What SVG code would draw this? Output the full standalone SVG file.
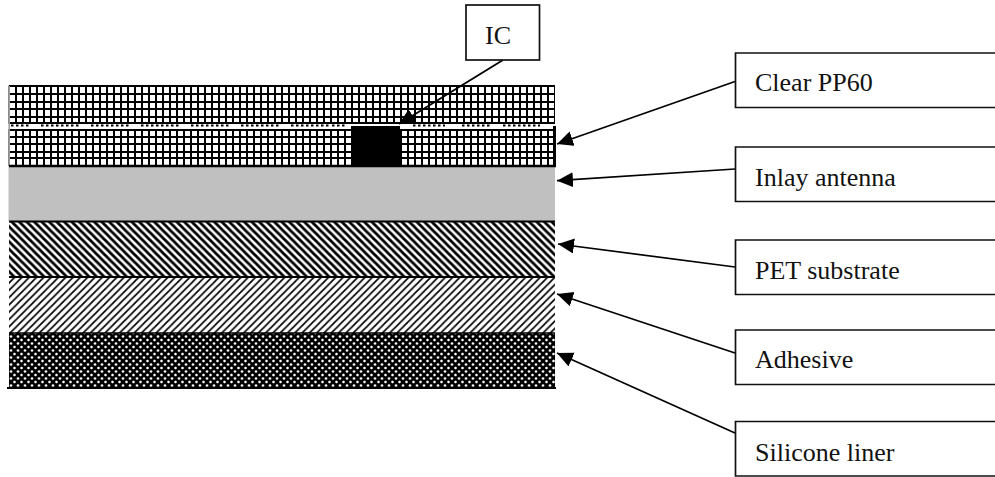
<svg xmlns="http://www.w3.org/2000/svg" width="995" height="477" viewBox="0 0 995 477">
<style>
.box{fill:#fff;stroke:#111;stroke-width:1.7}
.lbl{font-family:"Liberation Serif","Times New Roman",serif;font-size:26px;fill:#111}
.conn{stroke:#000;stroke-width:1.7;fill:none;marker-end:url(#arrow)}
.rule{stroke:#000;stroke-width:2}
</style>
<defs>
<marker id="arrow" markerUnits="userSpaceOnUse" markerWidth="17" markerHeight="16" refX="16" refY="7.500" orient="auto"><path d="M0 0L16 7.500L0 15z" fill="#000"/></marker>
<pattern id="grid" patternUnits="userSpaceOnUse" x="8" y="0" width="7" height="7"><rect width="7" height="7" fill="#fff"/><rect width="2" height="7" fill="#000"/></pattern>
<pattern id="pet" patternUnits="userSpaceOnUse" width="7.500" height="7.500"><rect width="7.500" height="7.500" fill="#fff"/><path d="M-1 -1L8.500 8.500M-2 5.500L2 9.500M5.500 -2L9.500 2" stroke="#000" stroke-width="2.800"/></pattern>
<pattern id="adh" patternUnits="userSpaceOnUse" width="7.300" height="7.300"><rect width="7.300" height="7.300" fill="#fff"/><path d="M-1 8.300L8.300 -1M-1 1L1 -1M6.300 8.300L8.300 6.300" stroke="#000" stroke-width="1.700"/></pattern>
<pattern id="lin" patternUnits="userSpaceOnUse" x="9" y="334" width="7" height="7"><rect width="7" height="7" fill="#000"/><path d="M2 1.200V3.800M0.700 2.500H3.300M5.500 4.700V7.300M4.200 6H6.800M5.500 -2.300V0.300" stroke="#fff" stroke-width="1.300"/></pattern>
</defs>
<rect width="995" height="477" fill="#fff"/>
<g id="layer-clear-pp60">
<rect x="8.500" y="85.500" width="546.500" height="38.500" fill="url(#grid)"/>
<rect x="8.500" y="129" width="546.500" height="37" fill="url(#grid)"/>
<path d="M9 86H555M9 94H555M9 102H555M9 109H555M9 117H555M9 123H555M9 130H555M9 137H555M9 144H555M9 152H555M9 158H555" stroke="#000" stroke-width="2" shape-rendering="crispEdges"/>
<path d="M11 125.600H30M41 125.600H79M91 125.600H129M141 125.600H179M191 125.600H229M241 125.600H279M291 125.600H329M332 125.600H346M413 125.600H445M462 125.600H492M503 125.600H540" stroke="#000" stroke-width="2" stroke-dasharray="2.500 2.500"/>
<path d="M9.250 86V166" stroke="#999" stroke-width="1.500"/>
<path d="M554.500 126V166" stroke="#000" stroke-width="3"/>
<rect id="ic-chip" x="351" y="126" width="49" height="40" fill="#000"/>
</g>
<g id="layer-inlay-antenna">
<rect x="8.500" y="166" width="546.500" height="55" fill="#c0c0c0"/>
<path d="M9 166H556" stroke="#000" stroke-width="2.500"/>
</g>
<g id="layer-pet-substrate">
<rect x="9" y="222" width="546" height="55" fill="url(#pet)"/>
<path class="rule" d="M9 221.500H555"/>
</g>
<g id="layer-adhesive">
<rect x="9" y="277" width="546" height="56" fill="url(#adh)"/>
<path class="rule" d="M9 277H555"/>
</g>
<g id="layer-silicone-liner">
<rect x="9" y="333" width="546" height="55" fill="url(#lin)"/>
<path d="M7 388H556" stroke="#000" stroke-width="2"/>
<path d="M9 333H555" stroke="#000" stroke-width="1.500"/>
</g>
<g id="connectors">
<path class="conn" d="M503 60L399 124"/>
<path class="conn" d="M735 81.500L557 144"/>
<path class="conn" d="M735 169L557 180.700"/>
<path class="conn" d="M735 267L558 244"/>
<path class="conn" d="M735 353L557 294"/>
<path class="conn" d="M735 433L557 353"/>
</g>
<g id="node-ic"><rect class="box" x="466" y="5" width="73.500" height="55"/><text class="lbl" x="485" y="44">IC</text></g>
<g id="node-clear-pp60"><path class="box" d="M996 53H735.500V107.500H996"/><text class="lbl" x="755" y="91">Clear PP60</text></g>
<g id="node-inlay-antenna"><path class="box" d="M996 147H735.500V201.500H996"/><text class="lbl" x="755" y="185.500">Inlay antenna</text></g>
<g id="node-pet-substrate"><path class="box" d="M996 240H735.500V294.500H996"/><text class="lbl" x="755" y="279">PET substrate</text></g>
<g id="node-adhesive"><path class="box" d="M996 330H735.500V384.500H996"/><text class="lbl" x="755" y="368">Adhesive</text></g>
<g id="node-silicone-liner"><path class="box" d="M996 421.500H735.500V476H996"/><text class="lbl" x="755" y="460.500">Silicone liner</text></g>
</svg>
